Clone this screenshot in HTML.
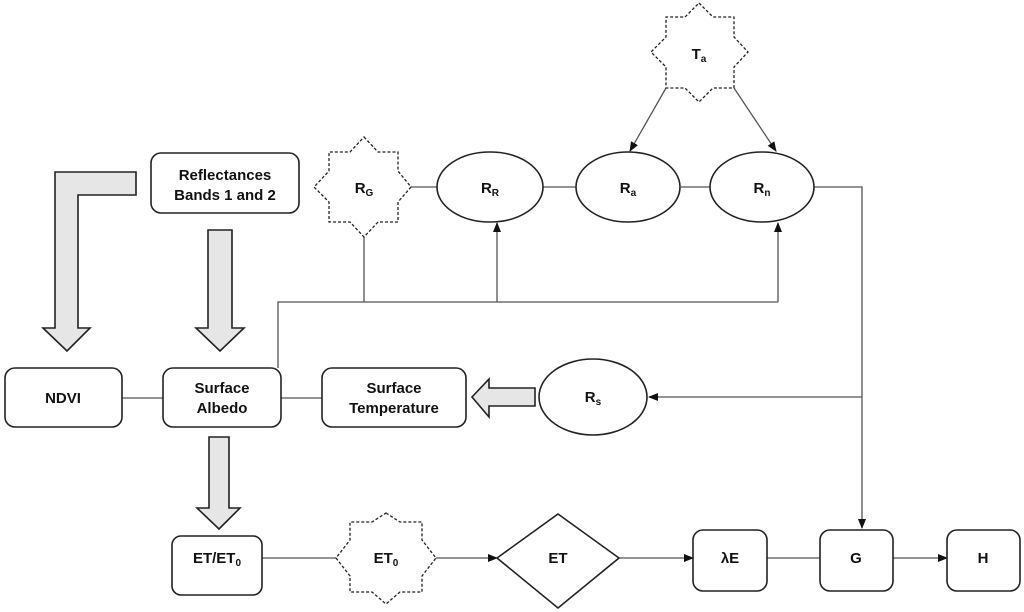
<!DOCTYPE html>
<html><head><meta charset="utf-8"><style>
html,body{margin:0;padding:0;background:#fff}
svg{display:block}
text{font-family:"Liberation Sans",Arial,sans-serif;font-weight:bold;font-size:15px;fill:#111}
</style></head><body>
<svg width="1024" height="612" viewBox="0 0 1024 612" xmlns="http://www.w3.org/2000/svg">
<defs>
<marker id="ah" markerWidth="10" markerHeight="10" refX="9" refY="5" orient="auto" markerUnits="userSpaceOnUse">
<path d="M0,1 L10,5 L0,9 Z" fill="#111"/></marker>
</defs>
<g stroke="#555" stroke-width="1.3" fill="none">
<line x1="410" y1="187" x2="437" y2="187"/>
<line x1="543" y1="187" x2="576" y2="187"/>
<line x1="681" y1="187" x2="710" y2="187"/>
<polyline points="814,187 862,187 862,528" marker-end="url(#ah)"/>
<line x1="862" y1="397" x2="649" y2="397" marker-end="url(#ah)"/>
<polyline points="278,368 278,302 778,302"/>
<line x1="364" y1="237" x2="364" y2="302"/>
<line x1="497" y1="302" x2="497" y2="223" marker-end="url(#ah)"/>
<line x1="778" y1="302" x2="778" y2="223" marker-end="url(#ah)"/>
<line x1="666" y1="88" x2="630" y2="151" marker-end="url(#ah)"/>
<line x1="734" y1="88" x2="776" y2="151" marker-end="url(#ah)"/>
<line x1="122" y1="398" x2="163" y2="398"/>
<line x1="281" y1="398" x2="322" y2="398"/>
<line x1="262" y1="558" x2="337" y2="558"/>
<line x1="436" y1="558" x2="497" y2="558" marker-end="url(#ah)"/>
<line x1="619" y1="558" x2="693" y2="558" marker-end="url(#ah)"/>
<line x1="767" y1="558" x2="820" y2="558"/>
<line x1="893" y1="558" x2="947" y2="558" marker-end="url(#ah)"/>
</g>
<g stroke="#222" stroke-width="1.6" fill="#fff">
<rect x="151" y="153" width="148" height="60" rx="10"/>
<rect x="5" y="368" width="117" height="59" rx="10"/>
<rect x="163" y="368" width="118" height="59" rx="10"/>
<rect x="322" y="368" width="144" height="59" rx="10"/>
<rect x="172" y="536" width="90" height="59" rx="9"/>
<rect x="693" y="530" width="74" height="61" rx="10"/>
<rect x="820" y="530" width="73" height="61" rx="10"/>
<rect x="947" y="530" width="73" height="61" rx="10"/>
<ellipse cx="490" cy="187" rx="53" ry="35"/>
<ellipse cx="628" cy="187" rx="52" ry="35"/>
<ellipse cx="762" cy="187" rx="52" ry="35"/>
<ellipse cx="593" cy="397" rx="54" ry="38"/>
<polygon points="558,514 619,558 558,608 497,558"/>
</g>
<g stroke="#222" stroke-width="1.3" fill="#fff" stroke-dasharray="3,2">
<polygon points="364,137 378,152 398,152 398,171 411,187 398,202 398,222 378,222 364,237 350,222 329,222 329,202 314,187 329,171 329,152 350,152"/>
<polygon points="699,3 713,17 734,17 734,37 748,52 734,67 734,88 713,88 699,102 685,88 666,88 666,67 651,52 666,37 666,17 685,17"/>
<polygon points="386,513 400,522 422,522 422,540 436,558 422,576 422,592 400,592 386,604 372,592 350,592 350,576 336,558 350,540 350,522 372,522"/>
</g>
<g stroke="#222" stroke-width="1.6" fill="#e6e6e6">
<polygon points="136,172 136,195 78,195 78,328 90,328 67,351 43,328 55,328 55,172"/>
<polygon points="208,230 232,230 232,328 244,328 220,351 196,328 208,328"/>
<polygon points="209,437 229,437 229,508 240,508 219,529 197,508 209,508"/>
<polygon points="535,388 535,406 489,406 489,417 472,397 489,379 489,388"/>
</g>
<g text-anchor="middle">
<text x="225" y="180">Reflectances</text>
<text x="225" y="200">Bands 1 and 2</text>
<text x="63" y="403">NDVI</text>
<text x="222" y="393">Surface</text>
<text x="222" y="413">Albedo</text>
<text x="394" y="393">Surface</text>
<text x="394" y="413">Temperature</text>
<text x="364" y="193">R<tspan font-size="10" dy="3">G</tspan></text>
<text x="490" y="193">R<tspan font-size="10" dy="3">R</tspan></text>
<text x="628" y="193">R<tspan font-size="10" dy="3">a</tspan></text>
<text x="762" y="193">R<tspan font-size="10" dy="3">n</tspan></text>
<text x="699" y="59">T<tspan font-size="10" dy="3">a</tspan></text>
<text x="593" y="402">R<tspan font-size="10" dy="3">s</tspan></text>
<text x="217" y="563">ET/ET<tspan font-size="10" dy="3">0</tspan></text>
<text x="386" y="563">ET<tspan font-size="10" dy="3">0</tspan></text>
<text x="558" y="563">ET</text>
<text x="730" y="563">λE</text>
<text x="856" y="563">G</text>
<text x="983" y="563">H</text>
</g>
</svg>
</body></html>
